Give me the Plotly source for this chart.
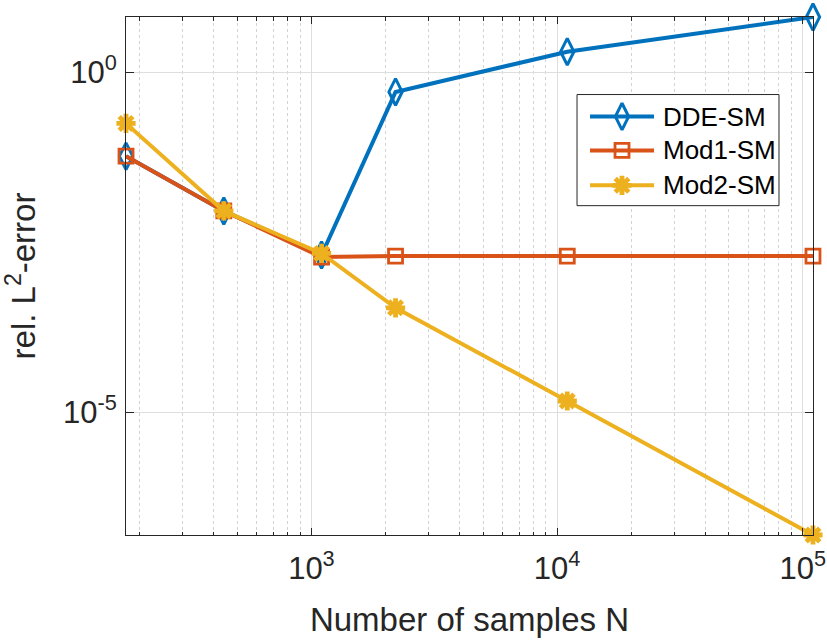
import numpy as np
import plotly.graph_objects as go

# Sample counts and relative L2 errors for the three surrogate methods
n_samples = [176, 440, 1100, 2200, 11000, 110000]
err_dde = [0.058, 0.0091, 0.00205, 0.51, 1.99, 6.43]
err_mod1 = [0.058, 0.0091, 0.00191, 0.00198, 0.00198, 0.00198]
err_mod2 = [0.176, 0.0091, 0.00216, 0.000344, 1.47e-5, 1.58e-7]

series_names = ["DDE-SM", "Mod1-SM", "Mod2-SM"]
series_colors = ["#0072BD", "#D95319", "#EDB120"]
series_symbols = ["diamond-tall-open", "square-open", "asterisk-open"]
series_sizes = [19, 14, 16]
series_mlw = [3, 2.8, 4.8]

x_tickvals = [1e3, 1e4, 1e5]
x_ticktext = ["10<sup>3</sup>", "10<sup>4</sup>", "10<sup>5</sup>"]
y_tickvals = [1e-5, 1e0]
y_ticktext = ["10<sup>-5</sup>", "10<sup>0</sup>"]

FONT = "Liberation Sans, Arial, Helvetica, sans-serif"
AX = "#262626"
EPS = 1e-4

fig = go.Figure()

for name, ys, col, sym, sz, mlw in zip(series_names, [err_dde, err_mod1, err_mod2],
                                        series_colors, series_symbols, series_sizes,
                                        series_mlw):
    fig.add_trace(go.Scatter(
        x=n_samples, y=ys, mode="lines+markers", name=name,
        line=dict(color=col, width=4),
        marker=dict(symbol=sym, size=sz, color=col, line=dict(color=col, width=mlw)),
        showlegend=False, cliponaxis=False,
    ))

# Legend box drawn on an overlay axis spanning the plot area
box_x0, box_x1, box_y0, box_y1 = 0.6565, 0.9505, 0.6358, 0.8503
fig.add_trace(go.Scatter(
    x=[box_x0, box_x1, box_x1, box_x0, box_x0],
    y=[box_y0, box_y0, box_y1, box_y1, box_y0],
    mode="lines", fill="toself", fillcolor="white",
    line=dict(color=AX, width=1), xaxis="x2", yaxis="y2",
    showlegend=False, hoverinfo="skip",
))
entry_y = [0.8079, 0.7424, 0.6750]
line_x0, line_x1, text_x = 0.6754, 0.7686, 0.7790
for name, col, sym, sz, mlw, ey in zip(series_names, series_colors, series_symbols,
                                       series_sizes, series_mlw, entry_y):
    fig.add_trace(go.Scatter(
        x=[line_x0, line_x1], y=[ey, ey], mode="lines",
        line=dict(color=col, width=4), xaxis="x2", yaxis="y2",
        showlegend=False, hoverinfo="skip",
    ))
    fig.add_trace(go.Scatter(
        x=[(line_x0 + line_x1) / 2], y=[ey], mode="markers",
        marker=dict(symbol=sym, size=sz, color=col, line=dict(color=col, width=mlw)),
        xaxis="x2", yaxis="y2", showlegend=False, hoverinfo="skip",
    ))
    fig.add_annotation(
        x=text_x, y=ey, xref="paper", yref="paper", text=name,
        showarrow=False, xanchor="left", yanchor="middle",
        font=dict(family=FONT, size=26, color="#000000"),
    )

all_err = err_dde + err_mod1 + err_mod2

fig.update_layout(
    width=827, height=642,
    margin=dict(l=126, r=14, t=17, b=107, autoexpand=False),
    paper_bgcolor="white", plot_bgcolor="white",
    font=dict(family=FONT, color=AX),
    showlegend=False,
    xaxis=dict(
        type="log", automargin=False,
        range=[np.log10(min(n_samples)) - EPS, np.log10(max(n_samples)) + EPS],
        tickmode="array", tickvals=x_tickvals, ticktext=x_ticktext,
        showline=True, linecolor=AX, linewidth=1, mirror="ticks",
        ticks="inside", ticklen=7, tickcolor=AX, tickwidth=1,
        showgrid=True, gridcolor="#dedede", gridwidth=1,
        minor=dict(tickmode="linear", dtick="D1", ticks="inside", ticklen=3.5,
                   tickcolor=AX, showgrid=True, gridcolor="#d2d2d2",
                   griddash="dot", gridwidth=1),
        tickfont=dict(family=FONT, size=31, color=AX),
        ticklabelstandoff=6,
        title=dict(text="Number of samples N", font=dict(family=FONT, size=33, color=AX),
                   standoff=22),
        zeroline=False,
    ),
    yaxis=dict(
        type="log", automargin=False,
        range=[np.log10(min(all_err)) - EPS, np.log10(max(all_err)) + EPS],
        tickmode="array", tickvals=y_tickvals, ticktext=y_ticktext,
        showline=True, linecolor=AX, linewidth=1, mirror="ticks",
        ticks="inside", ticklen=8, tickcolor=AX, tickwidth=1,
        showgrid=True, gridcolor="#dedede", gridwidth=1,
        tickfont=dict(family=FONT, size=31, color=AX),
        ticklabelstandoff=2,
        title=dict(text="rel. L<sup>2</sup>-error", font=dict(family=FONT, size=33, color=AX),
                   standoff=24),
        zeroline=False,
    ),
    xaxis2=dict(overlaying="x", range=[0, 1], visible=False, fixedrange=True),
    yaxis2=dict(overlaying="y", range=[0, 1], visible=False, fixedrange=True),
)

fig.write_html("out.html")
